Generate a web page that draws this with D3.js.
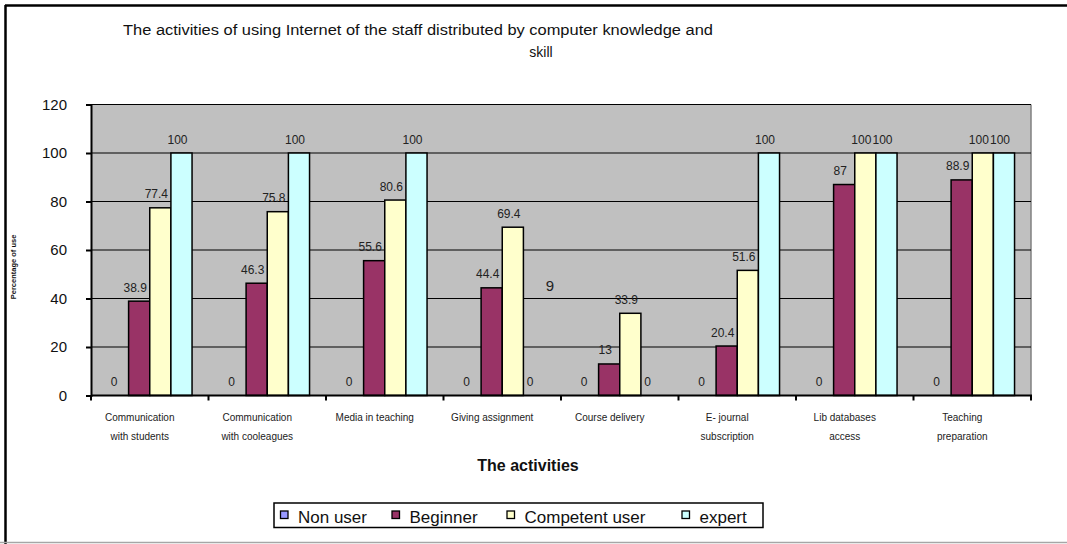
<!DOCTYPE html>
<html>
<head>
<meta charset="utf-8">
<script src="https://cdn.jsdelivr.net/npm/d3@7"></script>
<style>
  html, body { margin: 0; padding: 0; background: #fff; }
  svg { display: block; font-family: "Liberation Sans", Arial, sans-serif; }
</style>
</head>
<body>
<svg id="chart" width="1067" height="544"></svg>
<script>
const FONT = "'Liberation Sans', Arial, sans-serif";

// Activities (x-axis categories), each split into its two label lines
const categories = [
  "Communication with students",
  "Communication with cooleagues",
  "Media in teaching",
  "Giving assignment",
  "Course delivery",
  "E- journal subscription",
  "Lib databases access",
  "Teaching preparation"
];
const categoryLines = [
  ["Communication", "with students"],
  ["Communication", "with cooleagues"],
  ["Media in teaching"],
  ["Giving assignment"],
  ["Course delivery"],
  ["E- journal", "subscription"],
  ["Lib databases", "access"],
  ["Teaching", "preparation"]
];

// Percentage of use per skill level
const seriesNames = ["Non user", "Beginner", "Competent user", "expert"];
const nonUser   = [0, 0, 0, 0, 0, 0, 0, 0];
const beginner  = [38.9, 46.3, 55.6, 44.4, 13, 20.4, 87, 88.9];
const competent = [77.4, 75.8, 80.6, 69.4, 33.9, 51.6, 100, 100];
const expert    = [100, 100, 100, 0, 0, 100, 100, 100];

const yTicks = [0, 20, 40, 60, 80, 100, 120];
const seriesColors = ["#9999FF", "#993366", "#FFFFCC", "#CCFFFF"];

const series = [nonUser, beginner, competent, expert];

const svg = d3.select("#chart");

// Outer chart frame
svg.append("line").attr("x1", 5).attr("x2", 1067).attr("y1", 5.5).attr("y2", 5.5)
  .attr("stroke", "#000").attr("stroke-width", 2.5);
svg.append("line").attr("x1", 5.5).attr("x2", 5.5).attr("y1", 5).attr("y2", 544)
  .attr("stroke", "#000").attr("stroke-width", 2.5);
svg.append("line").attr("x1", 0).attr("x2", 1067).attr("y1", 542.5).attr("y2", 542.5)
  .attr("stroke", "#a6a6a6").attr("stroke-width", 1.5);

// Title
svg.append("text").attr("x", 418).attr("y", 35).attr("text-anchor", "middle")
  .attr("font-size", 14).attr("fill", "#111").attr("font-family", FONT)
  .attr("textLength", 590).attr("lengthAdjust", "spacingAndGlyphs")
  .text("The activities of using Internet of the staff distributed by computer knowledge and");
svg.append("text").attr("x", 541).attr("y", 56.5).attr("text-anchor", "middle")
  .attr("font-size", 14).attr("fill", "#111").attr("font-family", FONT)
  .text("skill");

// Plot area
const plot = { left: 91, right: 1031, top: 104.5, bottom: 395.5 };

const x0 = d3.scaleBand().domain(categories).range([plot.left, plot.right]).padding(0);
const bw = x0.bandwidth();
const x1 = d3.scaleBand().domain(seriesNames).range([bw * 0.14, bw * 0.86]).padding(0);
const y = d3.scaleLinear().domain([0, 120]).range([plot.bottom, plot.top]);

svg.append("rect")
  .attr("x", plot.left).attr("y", plot.top)
  .attr("width", plot.right - plot.left).attr("height", plot.bottom - plot.top)
  .attr("fill", "#C0C0C0");
svg.append("line").attr("x1", plot.right).attr("x2", plot.right)
  .attr("y1", plot.top).attr("y2", plot.bottom)
  .attr("stroke", "#808080").attr("stroke-width", 1.5);

// Horizontal gridlines
svg.append("g").selectAll("line")
  .data(yTicks.filter(d => d > 0))
  .join("line")
  .attr("x1", plot.left).attr("x2", plot.right)
  .attr("y1", d => y(d)).attr("y2", d => y(d))
  .attr("stroke", "#000").attr("stroke-width", 1.2);

// Bars
const groups = svg.append("g").selectAll("g")
  .data(categories)
  .join("g")
  .attr("transform", d => `translate(${x0(d)},0)`);

groups.selectAll("rect")
  .data((c, i) => seriesNames.map((s, k) => ({ s, k, v: series[k][i] })))
  .join("rect")
  .filter(d => d.v > 0)
  .attr("x", d => x1(d.s))
  .attr("y", d => y(d.v))
  .attr("width", x1.bandwidth())
  .attr("height", d => y(0) - y(d.v))
  .attr("fill", d => seriesColors[d.k])
  .attr("stroke", "#000").attr("stroke-width", 1.5);

// Value labels
groups.selectAll("text.val")
  .data((c, i) => seriesNames.map((s, k) => ({ s, k, v: series[k][i] })))
  .join("text")
  .attr("class", "val")
  .attr("x", d => x1(d.s) + x1.bandwidth() / 2 - 4)
  .attr("y", d => y(d.v) - 9.5)
  .attr("text-anchor", "middle")
  .attr("font-size", 12).attr("fill", "#222").attr("font-family", FONT)
  .text(d => d.v);

// Stray annotation inside the plot
svg.append("text").attr("x", 550).attr("y", 291).attr("text-anchor", "middle")
  .attr("font-size", 15).attr("fill", "#222").attr("font-family", FONT).text("9");

// Y axis
const yAxis = svg.append("g")
  .attr("transform", `translate(${plot.left},0)`)
  .call(d3.axisLeft(y).tickValues(yTicks).tickSize(5).tickPadding(19));
yAxis.select(".domain").attr("stroke", "#000").attr("stroke-width", 2);
yAxis.selectAll(".tick line").attr("stroke", "#000").attr("stroke-width", 2);
yAxis.selectAll(".tick text").attr("font-size", 15).attr("fill", "#111")
  .attr("font-family", FONT);

// X axis: ticks at category boundaries
const xAxisG = svg.append("g");
xAxisG.append("line").attr("x1", plot.left).attr("x2", plot.right + 1)
  .attr("y1", plot.bottom).attr("y2", plot.bottom)
  .attr("stroke", "#000").attr("stroke-width", 2);
xAxisG.selectAll("line.tk")
  .data(categories.concat(["end"]))
  .join("line")
  .attr("class", "tk")
  .attr("x1", (d, i) => plot.left + i * bw).attr("x2", (d, i) => plot.left + i * bw)
  .attr("y1", plot.bottom).attr("y2", plot.bottom + 5)
  .attr("stroke", "#000").attr("stroke-width", 2);

// Category labels
svg.append("g").selectAll("text")
  .data(categories)
  .join("text")
  .attr("x", d => x0(d) + bw / 2 - 10)
  .attr("y", 421)
  .attr("text-anchor", "middle")
  .attr("font-size", 10).attr("fill", "#222").attr("font-family", FONT)
  .each(function(d, i) {
    d3.select(this).selectAll("tspan")
      .data(categoryLines[i])
      .join("tspan")
      .attr("x", x0(d) + bw / 2 - 10)
      .attr("dy", (t, j) => j === 0 ? 0 : 18.5)
      .text(t => t);
  });

// Axis titles
svg.append("text").attr("x", 528).attr("y", 470.5).attr("text-anchor", "middle")
  .attr("font-size", 16).attr("font-weight", "bold").attr("fill", "#111").attr("font-family", FONT)
  .text("The activities");
svg.append("text")
  .attr("transform", "translate(16,267) rotate(-90)")
  .attr("text-anchor", "middle")
  .attr("font-size", 7.5).attr("font-weight", "bold").attr("fill", "#111").attr("font-family", FONT)
  .text("Percentage of use");

// Legend
const legend = svg.append("g");
legend.append("rect").attr("x", 274).attr("y", 503).attr("width", 489).attr("height", 24.5)
  .attr("fill", "#fff").attr("stroke", "#000").attr("stroke-width", 1.5);
const legendX = [280, 391.5, 506.5, 681.5];
const legendItems = legend.selectAll("g.item")
  .data(seriesNames)
  .join("g")
  .attr("class", "item")
  .attr("transform", (d, i) => `translate(${legendX[i]},0)`);
legendItems.append("rect")
  .attr("x", 0.5).attr("y", 511).attr("width", 7.5).attr("height", 7.5)
  .attr("fill", (d, i) => seriesColors[i])
  .attr("stroke", "#000").attr("stroke-width", 1.3);
legendItems.append("text")
  .attr("x", 18).attr("y", 522.5)
  .attr("font-size", 17).attr("fill", "#111").attr("font-family", FONT)
  .text(d => d);
</script>
</body>
</html>
